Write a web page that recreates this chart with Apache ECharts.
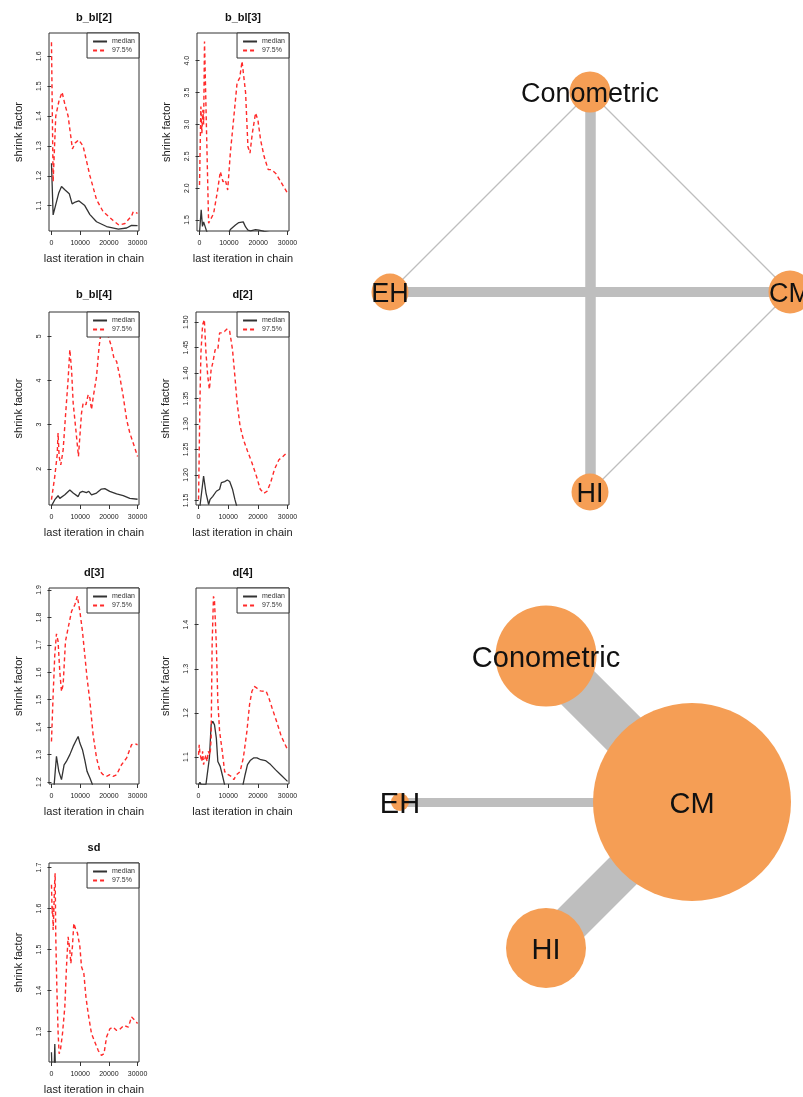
<!DOCTYPE html>
<html><head><meta charset="utf-8">
<script src="https://cdn.jsdelivr.net/npm/echarts@6/dist/echarts.min.js"></script>
<style>html,body{margin:0;padding:0;background:#fff}#c{width:803px;height:1097px}</style>
</head><body><div id="c"></div><script>
// ---------- data: Gelman-Rubin shrink factors ([last iteration, value]) ----------
const xTicks = [0, 10000, 20000, 30000];

const bbl2_q975 = [[0,1.647],[580,1.18],[1500,1.40],[2600,1.45],[3700,1.48],[4650,1.44],[5800,1.40],[7300,1.29],[8300,1.31],[9500,1.32],[11000,1.30],[12200,1.25],[13400,1.20],[15700,1.12],[18000,1.08],[21500,1.05],[23500,1.035],[25600,1.04],[27900,1.065],[28500,1.08],[30000,1.074]];
const bbl2_median = [[0,1.242],[580,1.069],[1200,1.07],[2500,1.141],[3500,1.164],[4650,1.153],[6200,1.14],[7200,1.106],[8300,1.112],[9500,1.116],[11600,1.10],[13400,1.07],[15700,1.046],[19200,1.03],[23300,1.021],[26200,1.025],[27900,1.034],[30000,1.033]];
const bbl2_ticks = [1.1,1.2,1.3,1.4,1.5,1.6];

const bbl3_q975 = [[0,2.05],[460,3.28],[800,2.86],[1150,3.23],[1400,3.0],[1700,4.30],[3100,1.45],[4800,1.6],[6000,1.92],[7100,2.26],[8000,2.1],[8800,2.13],[9600,1.97],[10500,2.55],[11700,3.12],[12800,3.65],[13700,3.73],[14500,3.99],[14900,4.02],[15700,3.5],[16500,2.65],[17200,2.55],[18000,2.86],[19100,3.18],[19900,3.07],[20800,2.76],[22000,2.5],[23400,2.29],[24500,2.29],[26000,2.23],[27700,2.1],[30000,1.92]];
const bbl3_median = [[0,1.30],[570,1.66],[1000,1.40],[1400,1.47],[1850,1.45],[2300,1.34],[2800,1.28],[9800,1.28],[10500,1.35],[12250,1.42],[13400,1.46],[14900,1.47],[15700,1.39],[16500,1.34],[17400,1.33],[19100,1.35],[20300,1.34],[22000,1.32],[24000,1.30],[30000,1.28]];
const bbl3_ticks = [1.5,2.0,2.5,3.0,3.5,4.0];

const bbl4_q975 = [[0,1.30],[1160,1.83],[2000,2.32],[2300,2.81],[2670,2.28],[3250,2.09],[4070,2.43],[4880,3.19],[5800,4.02],[6400,4.70],[7000,4.24],[7560,3.49],[8500,2.88],[9400,2.28],[9650,2.32],[10470,3.26],[11050,3.49],[12000,3.45],[12800,3.68],[13400,3.6],[13950,3.34],[14500,3.6],[15700,4.09],[16600,4.77],[17400,5.15],[18600,5.3],[19770,5.0],[20900,4.77],[21750,4.51],[22700,4.43],[23800,4.09],[25000,3.64],[26200,3.11],[27300,2.81],[28500,2.58],[30000,2.28]];
const bbl4_median = [[0,1.16],[1160,1.30],[2300,1.39],[2900,1.33],[3500,1.31],[4650,1.41],[6400,1.52],[7560,1.45],[9300,1.37],[9900,1.46],[10800,1.49],[12200,1.46],[13000,1.49],[13950,1.41],[15700,1.45],[17400,1.54],[18600,1.55],[20300,1.49],[22700,1.43],[25000,1.39],[27300,1.33],[30000,1.31]];
const bbl4_ticks = [2,3,4,5];

const d2_q975 = [[0,1.152],[460,1.342],[800,1.44],[1370,1.495],[1950,1.505],[2500,1.44],[3100,1.394],[3660,1.368],[4240,1.407],[4800,1.42],[5600,1.446],[6500,1.446],[7100,1.479],[8000,1.479],[8800,1.482],[9700,1.487],[10500,1.482],[11450,1.446],[12250,1.394],[13000,1.342],[14000,1.296],[15100,1.27],[16500,1.247],[18000,1.224],[19500,1.198],[20800,1.172],[22000,1.164],[23100,1.168],[24300,1.185],[25600,1.211],[27100,1.23],[28600,1.237],[30000,1.245]];
const d2_median = [[0,1.12],[500,1.14],[1700,1.198],[2500,1.165],[3400,1.142],[3900,1.152],[4800,1.158],[6000,1.168],[7100,1.172],[7700,1.185],[8800,1.187],[9700,1.19],[10500,1.187],[11450,1.172],[12250,1.152],[13000,1.136],[14000,1.12],[20000,1.10],[30000,1.09]];
const d2_ticks = [1.15,1.20,1.25,1.30,1.35,1.40,1.45,1.50];

const d3_q975 = [[0,1.348],[580,1.518],[1160,1.664],[1740,1.74],[2300,1.713],[2900,1.603],[3490,1.53],[4070,1.555],[4880,1.713],[5800,1.761],[7000,1.822],[8140,1.846],[9000,1.877],[9900,1.822],[10800,1.749],[11600,1.664],[12400,1.579],[13400,1.494],[14500,1.373],[15700,1.288],[16900,1.239],[18000,1.227],[19200,1.221],[20350,1.227],[21500,1.221],[22700,1.227],[24400,1.263],[26200,1.288],[27900,1.336],[29000,1.34],[30000,1.336]];
const d3_median = [[0,1.12],[930,1.19],[1740,1.294],[2560,1.239],[3490,1.209],[4400,1.263],[5200,1.275],[6400,1.3],[7560,1.33],[8700,1.354],[9300,1.366],[9900,1.342],[10800,1.318],[11600,1.281],[12400,1.239],[13400,1.215],[14200,1.193],[15000,1.15],[22000,1.12],[30000,1.10]];
const d3_ticks = [1.2,1.3,1.4,1.5,1.6,1.7,1.8,1.9];

const d4_q975 = [[0,1.105],[230,1.128],[460,1.109],[800,1.098],[1100,1.09],[1370,1.113],[1700,1.083],[2200,1.098],[2500,1.105],[2860,1.09],[3300,1.113],[3900,1.105],[4240,1.143],[4580,1.355],[5040,1.464],[5380,1.453],[6000,1.355],[6500,1.226],[7100,1.158],[8000,1.113],[8800,1.067],[10000,1.06],[11100,1.056],[11900,1.049],[12800,1.06],[14000,1.067],[15100,1.098],[16300,1.158],[17200,1.219],[18000,1.249],[18800,1.26],[19700,1.256],[20840,1.25],[22000,1.249],[22800,1.249],[23700,1.234],[24800,1.211],[26300,1.181],[27900,1.147],[30000,1.117]];
const d4_median = [[0,1.037],[460,1.043],[900,1.037],[1500,1.04],[2500,1.038],[3100,1.039],[3660,1.098],[4240,1.173],[4800,1.181],[5380,1.173],[6000,1.143],[6500,1.09],[7300,1.079],[8000,1.06],[8800,1.037],[9500,1.02],[14500,1.02],[15100,1.041],[15700,1.06],[16500,1.083],[17400,1.092],[18550,1.098],[19700,1.098],[21000,1.094],[22550,1.092],[24300,1.083],[26000,1.071],[27700,1.06],[30000,1.045]];
const d4_ticks = [1.1,1.2,1.3,1.4];

const sd_q975 = [[0,1.658],[230,1.588],[400,1.605],[580,1.548],[800,1.588],[1050,1.654],[1280,1.686],[1500,1.531],[1900,1.40],[2300,1.30],[2670,1.246],[3100,1.254],[3840,1.295],[4650,1.36],[5230,1.458],[5800,1.531],[6400,1.499],[6750,1.466],[7300,1.507],[7790,1.564],[8490,1.548],[9070,1.54],[9900,1.507],[10470,1.458],[11280,1.442],[12000,1.385],[12800,1.344],[13950,1.295],[15100,1.275],[16300,1.254],[17400,1.242],[18300,1.246],[19200,1.287],[20350,1.307],[21500,1.311],[22700,1.303],[24000,1.307],[25200,1.315],[26800,1.311],[27900,1.336],[29000,1.328],[30000,1.32]];
const sd_median = [[0,1.25],[200,1.20],[900,1.20],[1160,1.27],[1400,1.20],[2000,1.15],[15000,1.12],[30000,1.10]];
const sd_ticks = [1.3,1.4,1.5,1.6,1.7];

// ---------- data: network plots ----------
const net1_nodes = ['Conometric','EH','CM','HI'];
const net1_weight = [41,37,43,37];
const net1_edges = [['Conometric','HI',10.5],['EH','CM',10],['Conometric','EH',1.3],['Conometric','CM',1.3],['CM','HI',1.3]];

const net2_nodes = ['Conometric','EH','CM','HI'];
const net2_weight = [101,18,198,80];
const net2_edges = [['Conometric','CM',47],['HI','CM',38],['EH','CM',9]];

// ---------- layout ----------
const net1_pos = [[0,1],[-1,0],[1,0],[0,-1]];
const net2_pos = [[-0.5,0.5],[-1,0],[0,0],[-0.5,-0.5]];

const W = 803;
const panels = [
  {title:'b_bl[2]', q:bbl2_q975, m:bbl2_median, ticks:bbl2_ticks, dec:1, ymin:1.015, ymax:1.678, box:[49,33,139,231], ty:12},
  {title:'b_bl[3]', q:bbl3_q975, m:bbl3_median, ticks:bbl3_ticks, dec:1, ymin:1.327, ymax:4.435, box:[197,33,289,231], ty:12},
  {title:'b_bl[4]', q:bbl4_q975, m:bbl4_median, ticks:bbl4_ticks, dec:0, ymin:1.18, ymax:5.55, box:[49,312,139,505], ty:289},
  {title:'d[2]', q:d2_q975, m:d2_median, ticks:d2_ticks, dec:2, ymin:1.141, ymax:1.520, box:[196,312,289,505], ty:289},
  {title:'d[3]', q:d3_q975, m:d3_median, ticks:d3_ticks, dec:1, ymin:1.193, ymax:1.907, box:[49,588,139,784], ty:567},
  {title:'d[4]', q:d4_q975, m:d4_median, ticks:d4_ticks, dec:1, ymin:1.039, ymax:1.483, box:[196,588,289,784], ty:567},
  {title:'sd', q:sd_q975, m:sd_median, ticks:sd_ticks, dec:1, ymin:1.226, ymax:1.711, box:[49,863,139,1062], ty:842}
];

const FONT = 'Liberation Sans';
const grid = [], xAxis = [], yAxis = [], series = [], title = [], legend = [];
panels.forEach((p, i) => {
  const [l, t, r, b] = p.box;
  grid.push({left:l, top:t, width:r-l, height:b-t, show:true, borderColor:'#333', borderWidth:1, backgroundColor:'transparent'});
  xAxis.push({gridIndex:i, type:'value', min:-860, max:30500,
    axisLine:{show:false}, splitLine:{show:false},
    axisTick:{show:true, customValues:xTicks, length:4, lineStyle:{color:'#333'}},
    axisLabel:{customValues:xTicks, fontSize:7, color:'#222', margin:9, fontFamily:FONT,
      formatter: v => String(Math.round(v))},
    name:'last iteration in chain', nameLocation:'middle', nameGap:22,
    nameTextStyle:{fontSize:11, color:'#222', fontFamily:FONT}});
  yAxis.push({gridIndex:i, type:'value', min:p.ymin, max:p.ymax,
    axisLine:{show:false}, splitLine:{show:false},
    axisTick:{show:true, customValues:p.ticks, length:4, lineStyle:{color:'#333'}},
    axisLabel:{customValues:p.ticks, rotate:90, fontSize:7, color:'#222', margin:6, fontFamily:FONT,
      formatter: v => Number(v).toFixed(p.dec)},
    name:'shrink factor', nameLocation:'middle', nameGap:25, nameRotate:90,
    nameTextStyle:{fontSize:11, color:'#222', fontFamily:FONT}});
  series.push({type:'line', name:'median', xAxisIndex:i, yAxisIndex:i, data:p.m, symbol:'none', showSymbol:false,
    lineStyle:{color:'#333', width:1.3, type:'solid'}, itemStyle:{color:'#333'}, clip:true, z:2});
  series.push({type:'line', name:'97.5%', xAxisIndex:i, yAxisIndex:i, data:p.q, symbol:'none', showSymbol:false,
    lineStyle:{color:'#ff2a2a', width:1.4, type:[4,3]}, itemStyle:{color:'#ff2a2a'}, clip:true, z:2});
  title.push({text:p.title, left:(l+r)/2, top:p.ty, textAlign:'center', padding:0,
    textStyle:{fontSize:11, fontWeight:'bold', color:'#111', fontFamily:FONT}});
  legend.push({orient:'vertical', right:W-r, top:t, itemWidth:14, itemHeight:8, itemGap:2,
    padding:[5,4,4,5], borderColor:'#333', borderWidth:1, backgroundColor:'#fff', borderRadius:0,
    selectedMode:false, itemStyle:{opacity:0, borderWidth:0},
    textStyle:{fontSize:7, color:'#333', fontFamily:FONT}, data:['median','97.5%'], z:5});
});

// network grids
const orange = '#f59e55';
function addNet(gi, nodes, pos, weight, edges, box, fs) {
  grid.push({left:box[0], top:box[1], width:box[2], height:box[3], show:false});
  xAxis.push({gridIndex:gi, type:'value', min:box[4], max:box[5], show:false});
  yAxis.push({gridIndex:gi, type:'value', min:box[6], max:box[7], show:false});
  series.push({type:'graph', layout:'none', coordinateSystem:'cartesian2d', xAxisIndex:gi, yAxisIndex:gi,
    data: nodes.map((n, k) => ({name:n, value:pos[k], symbolSize:weight[k]})),
    links: edges.map(e => ({source:e[0], target:e[1], lineStyle:{width:e[2]}})),
    itemStyle:{color:orange},
    label:{show:true, position:'inside', fontSize:fs, color:'#111', fontFamily:FONT, offset:[0,3]},
    lineStyle:{color:'#bebebe', opacity:1, curveness:0},
    emphasis:{disabled:true}, silent:true, z:3});
}
addNet(7, net1_nodes, net1_pos, net1_weight, net1_edges, [390,92,400,400,-1,1,-1,1], 27);
addNet(8, net2_nodes, net2_pos, net2_weight, net2_edges, [400,656,292,292,-1,0,-0.5,0.5], 29);

const chart = echarts.init(document.getElementById('c'), null, {renderer:'canvas'});
chart.setOption({
  animation:false,
  backgroundColor:'#fff',
  textStyle:{fontFamily:FONT},
  title, legend, grid, xAxis, yAxis, series
});
</script></body></html>
